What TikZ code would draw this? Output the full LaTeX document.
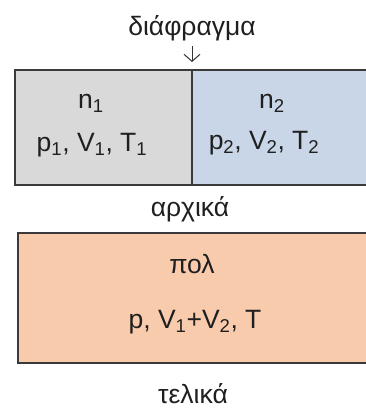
\documentclass[tikz,border=0pt]{standalone}
\usepackage{fontspec}
\setmainfont{Liberation Sans}
\usetikzlibrary{arrows.meta}
\definecolor{edge}{HTML}{3A3A3A}
\definecolor{gasone}{HTML}{D9D9D9}
\definecolor{gastwo}{HTML}{C9D6E7}
\definecolor{mixed}{HTML}{F8CBAD}
\tikzset{
  cell/.style={draw=edge, line width=1.5pt},
  txt/.style={anchor=base, inner sep=0pt, font=\fontsize{26.5}{30}\selectfont, text=black!88},
}
\begin{document}
\begin{tikzpicture}[x=1pt,y=-1pt]
\useasboundingbox (0,0) rectangle (366,408);
\clip (0,0) rectangle (366,408);
% initial state: two compartments separated by the partition
\fill[gasone] (15,70) rectangle (192,185);
\fill[gastwo] (192,70) rectangle (380,185);
\draw[cell] (380,70) -- (15,70) -- (15,185) -- (380,185);
\draw[cell] (192,70) coordinate (wall) -- (192,185);
% final state: one mixed volume
\fill[mixed] (18,233) rectangle (380,363);
\draw[cell] (380,233) -- (18,233) -- (18,363) -- (380,363);

\node[txt] (title) at (192,35) {διάφραγμα};
\coordinate (tail) at (192,46);
\coordinate (tip) at (192,62);
\draw[line width=1pt, draw=black!80, -{Straight Barb[length=7pt,width=16pt,line width=1pt]}]
  (tail) -- (tip);

\node[txt] (n1) at (91,108) {n\textsubscript{1}};
\node[txt] (s1) at (92,151) {p\textsubscript{1}, V\textsubscript{1}, T\textsubscript{1}};
\node[txt] (n2) at (272,108) {n\textsubscript{2}};
\node[txt] (s2) at (264,149) {p\textsubscript{2}, V\textsubscript{2}, T\textsubscript{2}};
\node[txt] (initial) at (190,216) {αρχικά};

\node[txt] (n) at (192,273) {πολ};
\node[txt] (s) at (195,328) {p, V\textsubscript{1}+V\textsubscript{2}, T};
\node[txt] (final) at (193,403) {τελικά};
\end{tikzpicture}
\end{document}
